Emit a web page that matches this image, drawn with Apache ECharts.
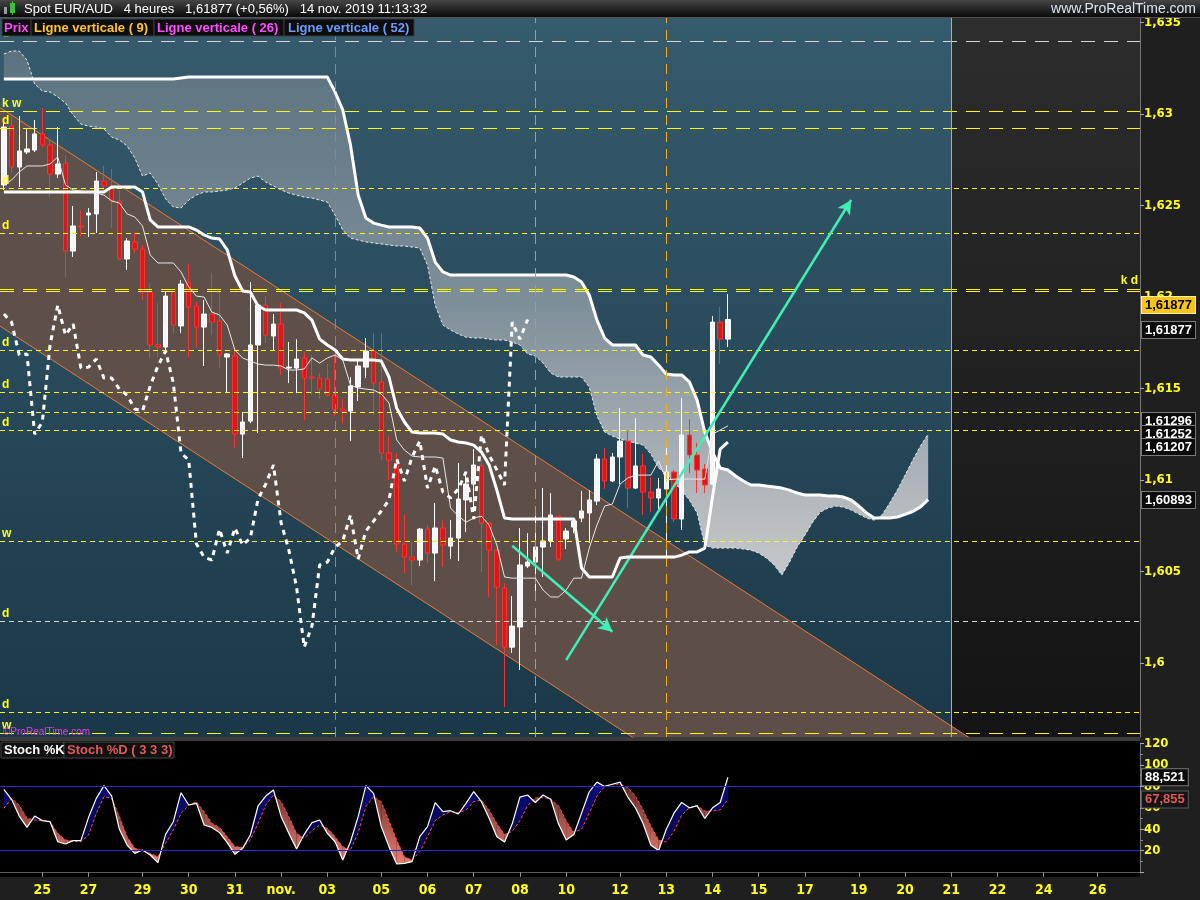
<!DOCTYPE html>
<html><head><meta charset="utf-8">
<script src="https://cdn.jsdelivr.net/npm/echarts@6/dist/echarts.min.js"></script>
<style>html,body{margin:0;padding:0;background:#1e1e1e;}#c{width:1200px;height:900px;}</style>
</head><body><div id="c"></div>
<script>
// ---------------- DATA ----------------
const opens = [1.62612,1.62934,1.62710,1.62792,1.62803,1.62891,1.62831,1.62672,1.62732,1.62251,
1.62388,1.62448,1.62454,1.62634,1.62596,1.62525,1.62208,1.62301,1.62262,1.62027,
1.61738,1.61727,1.62027,1.61842,1.62077,1.61951,1.61836,1.61907,1.61869,1.61672,
1.61678,1.61251,1.61322,1.61738,1.61956,1.61787,1.61852,1.61612,1.61612,1.61667,
1.61563,1.61557,1.61552,1.61464,1.61388,1.61377,1.61508,1.61617,1.61705,1.61536,
1.61148,1.61093,1.60650,1.60579,1.60563,1.60732,1.60601,1.60738,1.60639,1.60683,
1.60891,1.60978,1.61077,1.60765,1.60617,1.60410,1.60087,1.60197,1.60530,1.60552,
1.60634,1.60667,1.60803,1.60678,1.60743,1.60792,1.60820,1.60885,1.61115,1.60995,
1.61126,1.61213,1.60956,1.61077,1.60934,1.60902,1.60951,1.61044,1.60787,1.61246,
1.61137,1.61060,1.60978,1.61863,1.61770];
const closes = [1.62929,1.62710,1.62798,1.62809,1.62891,1.62831,1.62672,1.62727,1.62251,1.62388,
1.62383,1.62459,1.62634,1.62607,1.62525,1.62208,1.62306,1.62262,1.62027,1.61738,
1.61727,1.62005,1.61847,1.62071,1.61945,1.61836,1.61907,1.61863,1.61683,1.61689,
1.61251,1.61317,1.61738,1.61956,1.61792,1.61852,1.61612,1.61617,1.61661,1.61557,
1.61557,1.61497,1.61464,1.61388,1.61377,1.61514,1.61623,1.61705,1.61530,1.61148,
1.61109,1.60650,1.60579,1.60563,1.60732,1.60601,1.60738,1.60645,1.60683,1.60896,
1.60978,1.61082,1.60765,1.60617,1.60415,1.60087,1.60202,1.60536,1.60552,1.60634,
1.60667,1.60809,1.60568,1.60721,1.60776,1.60831,1.60891,1.61115,1.60995,1.61126,
1.61213,1.60956,1.61077,1.60934,1.60902,1.60951,1.61044,1.60787,1.61246,1.61137,
1.61055,1.60973,1.61863,1.61770,1.61877];
const lows = [1.62585,1.62678,1.62601,1.62781,1.62792,1.62814,1.62546,1.62650,1.62109,1.62219,
1.62328,1.62328,1.62350,1.62585,1.62377,1.62202,1.62148,1.62240,1.61984,1.61667,
1.61672,1.61694,1.61803,1.61803,1.61672,1.61727,1.61623,1.61792,1.61612,1.61481,
1.61175,1.61120,1.61311,1.61257,1.61749,1.61710,1.61574,1.61530,1.61475,1.61328,
1.61464,1.61443,1.61454,1.61350,1.61311,1.61213,1.61432,1.61557,1.61355,1.61109,
1.61000,1.60607,1.60492,1.60426,1.60530,1.60546,1.60448,1.60525,1.60568,1.60557,
1.60716,1.60825,1.60497,1.60361,1.60098,1.59760,1.60055,1.59962,1.60519,1.60388,
1.60470,1.60634,1.60557,1.60623,1.60710,1.60770,1.60656,1.60863,1.60951,1.60989,
1.60978,1.60847,1.60951,1.60809,1.60825,1.60836,1.60576,1.60770,1.60727,1.61038,
1.60929,1.60929,1.60973,1.61634,1.61727];
const highs = [1.62967,1.62995,1.62989,1.62918,1.62967,1.63033,1.62863,1.62929,1.62776,1.62497,
1.62475,1.62486,1.62683,1.62716,1.62699,1.62585,1.62322,1.62355,1.62284,1.62077,
1.61967,1.62027,1.62038,1.62093,1.62180,1.61973,1.61984,1.62131,1.62038,1.61694,
1.61710,1.61372,1.62082,1.61967,1.62005,1.61907,1.61967,1.61754,1.61770,1.61699,
1.61683,1.61585,1.61634,1.61683,1.61443,1.61563,1.61650,1.61776,1.61803,1.61803,
1.61240,1.61148,1.60814,1.60661,1.60738,1.60754,1.60874,1.60781,1.60781,1.61093,
1.61044,1.61169,1.61109,1.60765,1.60617,1.60437,1.60366,1.60738,1.60710,1.60847,
1.60956,1.60929,1.60803,1.60738,1.60792,1.60940,1.60945,1.61142,1.61175,1.61148,
1.61393,1.61268,1.61339,1.61142,1.61016,1.61011,1.61175,1.61055,1.61448,1.61333,
1.61202,1.61087,1.61896,1.61945,1.62016];

const kijun = [1.62574,1.62574,1.62574,1.62574,1.62574,1.62574,1.62574,1.62574,1.62574,1.62574,
1.62574,1.62574,1.62574,1.62574,1.62601,1.62601,1.62601,1.62601,1.62574,1.62421,
1.62383,1.62383,1.62383,1.62383,1.62383,1.62366,1.62339,1.62322,1.62317,1.62257,
1.62115,1.62033,1.62027,1.61951,1.61929,1.61929,1.61929,1.61929,1.61929,1.61913,
1.61874,1.61770,1.61738,1.61710,1.61661,1.61656,1.61656,1.61656,1.61656,1.61650,
1.61563,1.61393,1.61317,1.61262,1.61257,1.61257,1.61257,1.61251,1.61219,1.61208,
1.61202,1.61191,1.61153,1.61082,1.60945,1.60792,1.60787,1.60787,1.60787,1.60787,
1.60787,1.60787,1.60787,1.60787,1.60787,1.60519,1.60470,1.60470,1.60470,1.60470,
1.60574,1.60579,1.60579,1.60579,1.60579,1.60579,1.60579,1.60579,1.60590,1.60607,
1.60607,1.60628,1.60907,1.61169,1.61207];
const tenkan = [1.62612,1.62639,1.62683,1.62716,1.62716,1.62716,1.62727,1.62765,1.62612,1.62585,
1.62579,1.62574,1.62568,1.62557,1.62525,1.62514,1.62454,1.62437,1.62388,1.62230,
1.62186,1.62186,1.62186,1.62137,1.62055,1.62005,1.62000,1.61918,1.61902,1.61847,
1.61710,1.61667,1.61650,1.61634,1.61628,1.61628,1.61623,1.61601,1.61601,1.61607,
1.61667,1.61639,1.61667,1.61683,1.61656,1.61519,1.61503,1.61497,1.61492,1.61470,
1.61421,1.61219,1.61164,1.61131,1.61126,1.61126,1.61126,1.61120,1.60847,1.60803,
1.60770,1.60792,1.60803,1.60754,1.60645,1.60470,1.60464,1.60464,1.60464,1.60464,
1.60399,1.60361,1.60361,1.60399,1.60464,1.60464,1.60628,1.60754,1.60858,1.60869,
1.60978,1.61011,1.61027,1.61027,1.61027,1.61104,1.61000,1.61005,1.61005,1.61005,
1.61005,1.61005,1.61251,1.61273,1.61296];
const senkouA = [1.63328,1.63344,1.63344,1.63295,1.63164,1.63126,1.63120,1.63093,1.63060,1.62995,
1.62945,1.62934,1.62929,1.62918,1.62874,1.62858,1.62825,1.62760,1.62661,1.62678,
1.62617,1.62536,1.62492,1.62486,1.62530,1.62557,1.62574,1.62574,1.62579,1.62585,
1.62596,1.62623,1.62650,1.62661,1.62628,1.62607,1.62585,1.62568,1.62557,1.62546,
1.62541,1.62530,1.62519,1.62448,1.62366,1.62322,1.62311,1.62301,1.62295,1.62290,
1.62284,1.62279,1.62279,1.62273,1.62268,1.62175,1.61956,1.61847,1.61820,1.61798,
1.61781,1.61776,1.61776,1.61770,1.61765,1.61765,1.61754,1.61738,1.61689,1.61678,
1.61639,1.61585,1.61563,1.61563,1.61563,1.61563,1.61508,1.61350,1.61262,1.61240,
1.61224,1.61213,1.61202,1.61191,1.61142,1.61066,1.61033,1.60989,1.60940,1.60891,
1.60820,1.60645,1.60628,1.60628,1.60628,1.60628,1.60623,1.60617,1.60601,1.60574,
1.60536,1.60481,1.60552,1.60634,1.60699,1.60770,1.60825,1.60847,1.60858,1.60852,
1.60836,1.60814,1.60792,1.60781,1.60809,1.60874,1.60945,1.61027,1.61109,1.61186,
1.61252];
const senkouB = [1.63191,1.63191,1.63191,1.63191,1.63191,1.63191,1.63191,1.63191,1.63191,1.63191,
1.63191,1.63191,1.63191,1.63191,1.63191,1.63191,1.63191,1.63191,1.63191,1.63191,
1.63191,1.63191,1.63191,1.63197,1.63202,1.63202,1.63202,1.63202,1.63202,1.63202,
1.63202,1.63202,1.63202,1.63202,1.63202,1.63202,1.63202,1.63202,1.63202,1.63202,
1.63202,1.63202,1.63202,1.63120,1.63022,1.62831,1.62557,1.62432,1.62404,1.62393,
1.62383,1.62383,1.62383,1.62383,1.62377,1.62322,1.62191,1.62137,1.62120,1.62120,
1.62120,1.62120,1.62120,1.62120,1.62120,1.62120,1.62120,1.62120,1.62120,1.62120,
1.62120,1.62120,1.62120,1.62120,1.62109,1.62082,1.62011,1.61874,1.61776,1.61738,
1.61738,1.61738,1.61738,1.61683,1.61672,1.61628,1.61579,1.61574,1.61574,1.61536,
1.61437,1.61262,1.61153,1.61066,1.61055,1.61022,1.60995,1.60973,1.60973,1.60967,
1.60962,1.60956,1.60945,1.60929,1.60918,1.60918,1.60918,1.60913,1.60913,1.60907,
1.60891,1.60858,1.60820,1.60792,1.60792,1.60792,1.60798,1.60812,1.60828,1.60853,
1.60893];
const CHIKOU_SHIFT = 26;

const stochK = [77.3,67.9,52.3,41.7,52.3,48,47,28.3,26.2,29.3,
29.3,51.1,68.8,80.7,71,39.9,25.2,17.4,20.6,15.9,
8.7,35.2,47,74.1,62.6,64.2,43.9,41.7,36.8,27.4,
16.5,22.1,34.6,61.7,71,76.6,51.7,36.1,21.5,35.2,
46.1,48.6,36.1,28.3,11.2,28.3,51.7,80.7,73.5,42.4,
23.7,7.5,8,9.7,33,42.4,64.8,56.4,57.3,54.2,
64.2,75.1,65.7,50.2,33,28,45,70,72,65,
72,68,45,30,35,55,75,84,80,82,
84,70,60,45,25,20,40,55,65,60,
62,50,60,65,88.521];
const stochD = [59.5,68.8,62.6,50.2,48.6,48,47,36.1,29.9,29,
28.3,34.6,54.8,70.4,68.8,51.7,33,22.1,19.9,17.4,
14.3,26.8,39.3,54.8,62.6,65.7,56.4,45.5,41.7,33,
23.7,23.1,29.9,45.5,62.6,72,65.7,51.7,36.1,31.5,
38.6,43.9,40.8,33,23.7,20.6,36.8,61.1,70.4,65.7,
48,29.9,14.3,11.2,19,33,48,53.3,56.4,55.5,
57.9,65.7,67.3,57.9,45.5,35,38,48,62,69,
70,68,62,48,37,40,55,71,80,82,
82,79,71,58,43,30,28,38,53,60,
62,57,57,58,67.855];

const channelIdx = [-1, 140];
const channelUpper = [1.63049, 1.59191];
const channelLower = [1.61855, 1.57997];

const arrowLines = [
  {from:[66, 1.60641], to:[79, 1.60171], head:true},
  {from:[73, 1.60016], to:[110, 1.62530], head:true},
  {from:[103, 1.62760], to:[135, 1.59579], head:false}
];
const verticalLines = [43, 69, 86, 123];

const levelValues = [1.63399,1.63016,1.62923,1.62596,1.62350,1.62044,1.62033,1.61710,1.61481,1.61372,1.61273,1.60667,1.60230,1.59732,1.59617];
const levelNames  = ['d','k w','d','d','d','d','','d','d','','d','w','d','d','w'];
const levelEndNames = ['','','','','','k d','','','','','','','','',''];

const tagTexts  = ['1,61877','1,61877','1,61296','1,61252','1,61207','1,60893'];
const tagLevels = [1.61956, 1.61820, 1.61322, 1.61251, 1.61180, 1.60891];
const stochTagTexts = ['88,521','67,855'];
const stochTagLevels = [88.521, 67.855];

const dayTicks  = [5,11,18,24,30,36,42,49,55,61,67,73,80,86,92,98,104,111,117,123,129,135,142];
const dayLabels = ['25','27','29','30','31','nov.','03','05','06','07','08','10','12','13','14','15','17','19','20','21','22','24','26'];
const SLOTS = 148;

// ---------------- CHART ----------------
const categories = [];
for (let i = 0; i < SLOTS; i++) categories.push('p' + i);
const candleData = opens.map((o, i) => [o, closes[i], lows[i], highs[i]]);
const chikou = closes.slice(CHIKOU_SHIFT).map((c, j) => [j, c]);

const G = echarts.graphic;
const FONT = "'Liberation Sans', Arial, sans-serif";
const NARROW = "'Liberation Sans Narrow','DejaVu Sans Condensed','Liberation Sans',sans-serif";
const YEL = '#ffff1a';

const cloudFill = new G.LinearGradient(0, 17, 0, 737, [
  {offset:0, color:'#566f7d'}, {offset:0.4, color:'#7f8f99'}, {offset:0.75, color:'#c2c5c8'}, {offset:1, color:'#d5d6d7'}], true);
const blueFill = new G.LinearGradient(0, 780, 0, 865, [{offset:0,color:'#0c0c80'},{offset:1,color:'#03033a'}], true);
const redFill = new G.LinearGradient(0, 778, 0, 866, [{offset:0,color:'#5a2622'},{offset:1,color:'#f07e74'}], true);

const levelLong = new Set([0,1,2,5,6,14]);
const levelWhite = new Set([0,12]);
const levelMarks = levelValues.map((v, i) => ({
  yAxis: v,
  lineStyle: {color: levelWhite.has(i) ? '#d6d6d6' : '#ffff00', width: 1, type: levelLong.has(i) ? [14, 9] : [5, 4]},
  label: levelEndNames[i] ? {show:true, position:'insideEndTop', formatter: levelEndNames[i], color: YEL, fontSize: 12, fontWeight:'bold', fontFamily: FONT, distance: 2}
                          : {show: !!levelNames[i], position:'insideStartTop', formatter: levelNames[i], color: YEL, fontSize: 12, fontWeight:'bold', fontFamily: FONT, distance: [2, 1]}
}));

const vStyles = [
  {color:'#5b8df0', type:[10,7], width:1},
  {color:'#c97ed6', type:[10,7], width:1},
  {color:'#f2ac1c', type:[10,7], width:1},
  {color:'#6cc0f0', type:'solid', width:1}
];
const vMarks = verticalLines.map((x, i) => ({xAxis: x, lineStyle: vStyles[i], label:{show:false}}));
const arrowMarks = arrowLines.map(a => [
  {coord: a.from, symbol:'none'},
  {coord: a.to, symbol: a.head ? 'arrow' : 'none', symbolSize: a.head ? [11, 14] : 0}
]);

const tagStyles = [
  {color:'#000', backgroundColor:'#f7c51c', borderColor:'#fff2a6'},
  {color:'#fff', backgroundColor:'#0b0b0b', borderColor:'#7a7a7a'},
  {color:'#fff', backgroundColor:'#0b0b0b', borderColor:'#7a7a7a'},
  {color:'#fff', backgroundColor:'#0b0b0b', borderColor:'#7a7a7a'},
  {color:'#fff', backgroundColor:'#0b0b0b', borderColor:'#7a7a7a'},
  {color:'#fff', backgroundColor:'#0b0b0b', borderColor:'#7a7a7a'}
];
const tagMarks = tagTexts.map((t, i) => ({
  yAxis: tagLevels[i], lineStyle:{color:'rgba(0,0,0,0)'},
  label: Object.assign({show:true, position:'end', distance:2, formatter:t, fontSize:13, fontWeight:'bold', fontFamily: FONT, padding:[2,3,1,3], borderWidth:1}, tagStyles[i])
}));
const stochTagStyles = [
  {color:'#fff', backgroundColor:'#0b0b0b', borderColor:'#7a7a7a'},
  {color:'#e25a5a', backgroundColor:'#151515', borderColor:'#5a5a5a'}
];
const stochTagMarks = stochTagTexts.map((t, i) => ({
  yAxis: stochTagLevels[i], lineStyle:{color:'rgba(0,0,0,0)'},
  label: Object.assign({show:true, position:'end', distance:2, formatter:t, fontSize:13, fontWeight:'bold', fontFamily: FONT, padding:[2,3,1,3], borderWidth:1}, stochTagStyles[i])
}));

const chart = echarts.init(document.getElementById('c'), null, {renderer:'canvas'});

function lg(y0, y1, c0, c1) { return new G.LinearGradient(0, y0, 0, y1, [{offset:0,color:c0},{offset:1,color:c1}], true); }

const graphics = [
  {type:'rect', z:-20, silent:true, shape:{x:0,y:17,width:951,height:720}, style:{fill: lg(17,737,'#365b6d','#1a3848')}},
  {type:'rect', z:-20, silent:true, shape:{x:951,y:17,width:189,height:720}, style:{fill: lg(17,737,'#2d2d2d','#141414')}},
  {type:'rect', z:-20, silent:true, shape:{x:0,y:737,width:1140,height:4}, style:{fill:'#3c3c3c'}},
  {type:'rect', z:-20, silent:true, shape:{x:0,y:741,width:1140,height:136}, style:{fill:'#000'}},
  {type:'rect', z:-20, silent:true, shape:{x:1140,y:17,width:60,height:883}, style:{fill:'#1f1f1f'}},
  {type:'rect', z:-20, silent:true, shape:{x:0,y:877,width:1140,height:23}, style:{fill:'#1f1f1f'}},
  {type:'rect', z:100, silent:true, shape:{x:0,y:0,width:1200,height:17}, style:{fill: lg(0,17,'#454545','#0a0a0a')}},
  {type:'rect', z:100, silent:true, shape:{x:0,y:17,width:1200,height:1}, style:{fill:'#555'}},
  {type:'rect', z:101, silent:true, shape:{x:4,y:7,width:3,height:7}, style:{fill:'#9a9a9a'}},
  {type:'rect', z:101, silent:true, shape:{x:10,y:3,width:5,height:10}, style:{fill:'#3fbf3f'}},
  {type:'rect', z:101, silent:true, shape:{x:12,y:1,width:1,height:14}, style:{fill:'#3fbf3f'}},
  {type:'text', z:101, silent:true, style:{text:'Spot EUR/AUD   4 heures   1,61877 (+0,56%)   14 nov. 2019 11:13:32', x:24, y:9, fill:'#ffffff', font:'13px ' + FONT, verticalAlign:'middle', textVerticalAlign:'middle'}},
  {type:'text', z:101, silent:true, style:{text:'www.ProRealTime.com', x:1196, y:9, fill:'#dbe6f2', font:'14px ' + FONT, align:'right', textAlign:'right', verticalAlign:'middle', textVerticalAlign:'middle'}},
  // legend
  {type:'rect', z:100, silent:true, shape:{x:2,y:19,width:29,height:17}, style:{fill:'#0d0d0d', stroke:'#3a3a3a'}},
  {type:'text', z:101, silent:true, style:{text:'Prix', x:4, y:28, fill:'#ff45ff', font:'bold 13px ' + FONT, verticalAlign:'middle', textVerticalAlign:'middle'}},
  {type:'rect', z:100, silent:true, shape:{x:31,y:19,width:123,height:17}, style:{fill:'#0d0d0d', stroke:'#3a3a3a'}},
  {type:'text', z:101, silent:true, style:{text:'Ligne verticale ( 9)', x:34, y:28, fill:'#ffc22b', font:'bold 13px ' + FONT, verticalAlign:'middle', textVerticalAlign:'middle'}},
  {type:'rect', z:100, silent:true, shape:{x:154,y:19,width:130,height:17}, style:{fill:'#0d0d0d', stroke:'#3a3a3a'}},
  {type:'text', z:101, silent:true, style:{text:'Ligne verticale ( 26)', x:157, y:28, fill:'#ff4dff', font:'bold 13px ' + FONT, verticalAlign:'middle', textVerticalAlign:'middle'}},
  {type:'rect', z:100, silent:true, shape:{x:284,y:19,width:130,height:17}, style:{fill:'#0d0d0d', stroke:'#3a3a3a'}},
  {type:'text', z:101, silent:true, style:{text:'Ligne verticale ( 52)', x:288, y:28, fill:'#6b9cff', font:'bold 13px ' + FONT, verticalAlign:'middle', textVerticalAlign:'middle'}},
  {type:'text', z:101, silent:true, style:{text:'©ProRealTime.com', x:3, y:732, fill:'#e040e0', font:'10px ' + FONT, verticalAlign:'middle', textVerticalAlign:'middle'}},
  // stoch titles
  {type:'rect', z:100, silent:true, shape:{x:1,y:742,width:63,height:16}, style:{fill:'#111', stroke:'#444'}},
  {type:'text', z:101, silent:true, style:{text:'Stoch %K', x:4, y:750, fill:'#ffffff', font:'bold 13px ' + FONT, verticalAlign:'middle', textVerticalAlign:'middle'}},
  {type:'rect', z:100, silent:true, shape:{x:64,y:742,width:110,height:16}, style:{fill:'#111', stroke:'#444'}},
  {type:'text', z:101, silent:true, style:{text:'Stoch %D ( 3 3 3)', x:67, y:750, fill:'#e05a5a', font:'bold 13px ' + FONT, verticalAlign:'middle', textVerticalAlign:'middle'}}
];

const option = {
  backgroundColor: '#1f1f1f',
  animation: false,
  graphic: {elements: graphics},
  grid: [
    {left:0, top:17, width:1140, height:720, show:false, outerBoundsMode:'none', containLabel:false},
    {left:0, top:743.6, width:1140, height:128.4, show:false, outerBoundsMode:'none', containLabel:false}
  ],
  xAxis: [
    {type:'category', gridIndex:0, data:categories, boundaryGap:true, axisLine:{show:false}, axisTick:{show:false}, axisLabel:{show:false}, splitLine:{show:false}},
    {type:'category', gridIndex:1, data:categories, boundaryGap:true, position:'bottom', offset:5,
      axisLine:{show:true, lineStyle:{color:'#5a5a5a'}},
      axisTick:{show:true, alignWithLabel:true, interval:(i) => dayTicks.indexOf(i) >= 0, length:5, lineStyle:{color:'#8a8a8a'}},
      axisLabel:{show:true, interval:(i) => dayTicks.indexOf(i) >= 0, formatter:(v, i) => dayLabels[dayTicks.indexOf(i)] || '', color:YEL, fontSize:14, fontWeight:'bold', fontFamily:NARROW, margin:6},
      splitLine:{show:false}}
  ],
  yAxis: [
    {type:'value', gridIndex:0, position:'right', min:1.59596, max:1.6353, splitNumber:8,
      axisLine:{show:true, lineStyle:{color:'#777'}}, axisTick:{show:true, length:4, lineStyle:{color:'#aaa'}},
      splitLine:{show:false},
      axisLabel:{showMinLabel:false, showMaxLabel:false, margin:4, color:YEL, fontSize:13, fontWeight:'bold', fontFamily:NARROW,
        formatter:(v) => String(Math.round(v * 1000) / 1000).replace('.', ',')}},
    {type:'value', gridIndex:1, position:'right', min:0, max:120, interval:20,
      axisLine:{show:true, lineStyle:{color:'#777'}}, axisTick:{show:true, length:4, lineStyle:{color:'#aaa'}},
      minorTick:{show:true, splitNumber:2, length:3, lineStyle:{color:'#888'}},
      splitLine:{show:false},
      axisLabel:{showMinLabel:false, margin:4, color:YEL, fontSize:13, fontWeight:'bold', fontFamily:NARROW}}
  ],
  series: [
    {type:'custom', name:'channel', xAxisIndex:0, yAxisIndex:0, z:1, clip:true, silent:true,
      data:[[0, channelUpper[0]]],
      renderItem:(p, api) => ({type:'polygon', shape:{points:[
        api.coord([channelIdx[0], channelUpper[0]]), api.coord([channelIdx[1], channelUpper[1]]),
        api.coord([channelIdx[1], channelLower[1]]), api.coord([channelIdx[0], channelLower[0]])]},
        style:{fill:'rgba(99,80,72,0.92)'}})},
    {type:'line', name:'chanU', xAxisIndex:0, yAxisIndex:0, z:2, clip:true, symbol:'none', silent:true,
      data: channelIdx.map((x, i) => [x, channelUpper[i]]), lineStyle:{color:'#e77a3c', width:1}},
    {type:'line', name:'chanL', xAxisIndex:0, yAxisIndex:0, z:2, clip:true, symbol:'none', silent:true,
      data: channelIdx.map((x, i) => [x, channelLower[i]]), lineStyle:{color:'#e77a3c', width:1}},
    {type:'custom', name:'cloud', xAxisIndex:0, yAxisIndex:0, z:2, clip:true, silent:true,
      data:[[0, senkouA[0]]],
      renderItem:(p, api) => {
        const pts = [];
        for (let i = 0; i < senkouA.length; i++) pts.push(api.coord([i, senkouA[i]]));
        for (let i = senkouB.length - 1; i >= 0; i--) pts.push(api.coord([i, senkouB[i]]));
        return {type:'polygon', shape:{points:pts}, style:{fill:cloudFill}};
      }},
    {type:'line', name:'SenkouA', xAxisIndex:0, yAxisIndex:0, z:3, symbol:'none', silent:true, data:senkouA,
      lineStyle:{color:'#e6e6e6', width:1, type:[3,2]}},
    {type:'line', name:'SenkouB', xAxisIndex:0, yAxisIndex:0, z:3, symbol:'none', silent:true, data:senkouB,
      lineStyle:{color:'#ffffff', width:3}},
    {type:'candlestick', name:'Prix', xAxisIndex:0, yAxisIndex:0, z:4, barWidth:5, data:candleData,
      itemStyle:{color:'#f6f6f6', color0:'#d61a1a', borderColor:'#ffffff', borderColor0:'#ff3030', borderWidth:1}},
    {type:'line', name:'Kijun', xAxisIndex:0, yAxisIndex:0, z:5, symbol:'none', silent:true, data:kijun,
      lineStyle:{color:'#ffffff', width:3}},
    {type:'line', name:'Tenkan', xAxisIndex:0, yAxisIndex:0, z:5, symbol:'none', silent:true, data:tenkan,
      lineStyle:{color:'#e8e8e8', width:1},
      markLine:{silent:true, symbol:'none', animation:false, precision:6, data: levelMarks}},
    {type:'line', name:'Chikou', xAxisIndex:0, yAxisIndex:0, z:5, symbol:'none', silent:true, data:chikou,
      lineStyle:{color:'#ffffff', width:3, type:[5,5]}},
    {type:'line', name:'annot', xAxisIndex:0, yAxisIndex:0, z:6, clip:true, symbol:'none', silent:true, data:[],
      markLine:{silent:true, animation:false, symbol:'none', precision:6, data: vMarks}},
    {type:'line', name:'arrows', xAxisIndex:0, yAxisIndex:0, z:7, clip:true, symbol:'none', silent:true, data:[],
      markLine:{silent:true, animation:false, precision:6, label:{show:false}, lineStyle:{color:'#3ff0b6', width:2.5, type:'solid'}, data: arrowMarks}},
    {type:'line', name:'tags', xAxisIndex:0, yAxisIndex:0, z:8, clip:false, symbol:'none', silent:true, data:[],
      markLine:{silent:true, animation:false, symbol:'none', precision:6, data: tagMarks}},
    // stochastic
    {type:'custom', name:'stochFill', xAxisIndex:1, yAxisIndex:1, z:2, clip:true, silent:true,
      data: stochK.slice(0, -1).map((v, i) => [i, v]),
      renderItem:(p, api) => {
        const i = p.dataIndex;
        const k0 = stochK[i], k1 = stochK[i + 1], d0 = stochD[i], d1 = stochD[i + 1];
        const K0 = api.coord([i, k0]), K1 = api.coord([i + 1, k1]), D0 = api.coord([i, d0]), D1 = api.coord([i + 1, d1]);
        const s0 = k0 - d0, s1 = k1 - d1;
        const ch = [];
        if (s0 * s1 >= 0) {
          ch.push({type:'polygon', shape:{points:[K0, K1, D1, D0]}, style:{fill:(s0 + s1) >= 0 ? blueFill : redFill}});
        } else {
          const t = s0 / (s0 - s1);
          const X = [K0[0] + (K1[0] - K0[0]) * t, K0[1] + (K1[1] - K0[1]) * t];
          ch.push({type:'polygon', shape:{points:[K0, X, D0]}, style:{fill: s0 > 0 ? blueFill : redFill}});
          ch.push({type:'polygon', shape:{points:[X, K1, D1]}, style:{fill: s1 > 0 ? blueFill : redFill}});
        }
        return {type:'group', children:ch};
      }},
    {type:'line', name:'Stoch %D', xAxisIndex:1, yAxisIndex:1, z:3, symbol:'none', silent:true, data:stochD,
      lineStyle:{color:'#ff4a4a', width:1, type:[3,2]}},
    {type:'line', name:'Stoch %K', xAxisIndex:1, yAxisIndex:1, z:4, symbol:'none', silent:true, data:stochK,
      lineStyle:{color:'#ffffff', width:1.2},
      markLine:{silent:true, animation:false, symbol:'none', label:{show:false},
        data:[{yAxis:80, lineStyle:{color:'#2a2acc', width:1, type:'solid'}}, {yAxis:20, lineStyle:{color:'#2a2acc', width:1, type:'solid'}}]}},
    {type:'line', name:'stochTags', xAxisIndex:1, yAxisIndex:1, z:8, clip:false, symbol:'none', silent:true, data:[],
      markLine:{silent:true, animation:false, symbol:'none', precision:6, data: stochTagMarks}}
  ]
};
chart.setOption(option);
</script></body></html>
